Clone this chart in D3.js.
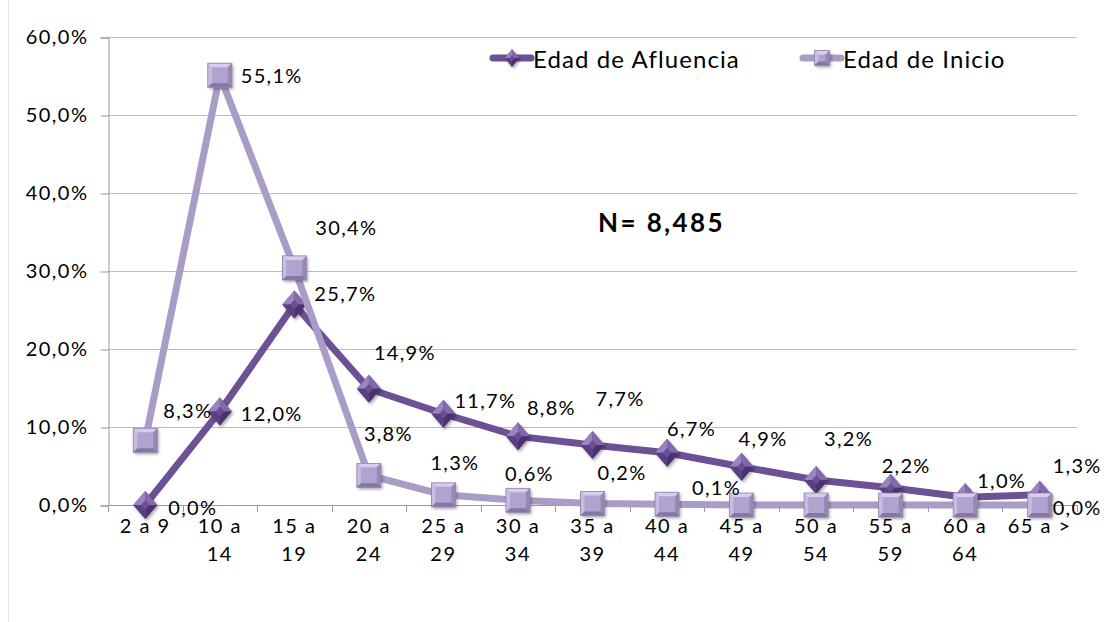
<!DOCTYPE html>
<html>
<head>
<meta charset="utf-8">
<script src="https://cdn.jsdelivr.net/npm/d3@7"></script>
<style>
  body { margin: 0; background: #fff; }
  text { font-family: Lato, "Open Sans", sans-serif; fill: #000; }
</style>
</head>
<body>
<script>
// data
var categories = ['2 a 9','10 a 14','15 a 19','20 a 24','25 a 29','30 a 34','35 a 39',
                  '40 a 44','45 a 49','50 a 54','55 a 59','60 a 64','65 a >'];
var afluencia = [0.0, 12.0, 25.7, 14.9, 11.7, 8.8, 7.7, 6.7, 4.9, 3.2, 2.2, 1.0, 1.3];
var inicio    = [8.3, 55.1, 30.4, 3.8, 1.3, 0.6, 0.2, 0.1, 0.0, 0.0, 0.0, 0.0, 0.0];
var yTicks = [0, 10, 20, 30, 40, 50, 60];
var seriesNames = ['Edad de Afluencia', 'Edad de Inicio'];
var totalN = 'N= 8,485';

// which inicio points carry a label (the rest were hidden in the original)
var inicioShown = [true,true,true,true,true,true,true,true,false,false,false,false,true];

// label nudges (dx from point to text start, dy from point to text middle)
var nudgeA = [[23,2],[21,2],[20,-12],[5,-37],[11,-14],[9,-29],[3,-47],[0,-25],[-3,-29],[8,-42],[-9,-23],[12,-17],[13,-30]];
var nudgeI = [[18,-30],[21,0],[21,-41],[-5,-42],[-13,-33],[-13,-27],[5,-31],[25,-17],[0,0],[0,0],[0,0],[0,0],[13,2]];

var W = 1109, H = 622;
var mLeft = 108, mRight = 1077, mTop = 37, mBottom = 505;

var loc = d3.formatLocale({decimal: ',', thousands: '.', grouping: [3], currency: ['', '']});
var pct = function(v) { return loc.format('.1f')(v) + '%'; };

var svg = d3.select('body').append('svg').attr('width', W).attr('height', H);

// faint outer frame line on the left
svg.append('line').attr('x1', 8.5).attr('x2', 8.5).attr('y1', 0).attr('y2', H)
    .attr('stroke', '#e6e6e6').attr('stroke-width', 1);

var x = d3.scaleBand().domain(categories).range([mLeft, mRight]);
var y = d3.scaleLinear().domain([0, 60]).range([mBottom, mTop]);

var defs = svg.append('defs');
var sh = defs.append('filter').attr('id', 'shadow').attr('x', '-50%').attr('y', '-50%')
    .attr('width', '200%').attr('height', '200%');
sh.append('feDropShadow').attr('dx', 1.5).attr('dy', 2).attr('stdDeviation', 1.5)
    .attr('flood-color', '#000').attr('flood-opacity', 0.35);

// gridlines
svg.append('g').selectAll('line').data(yTicks.slice(1)).enter().append('line')
    .attr('x1', mLeft).attr('x2', mRight)
    .attr('y1', function(d) { return Math.round(y(d)) + 0.5; })
    .attr('y2', function(d) { return Math.round(y(d)) + 0.5; })
    .attr('stroke', '#bdbdbd').attr('stroke-width', 1);

// y axis
var yAxis = d3.axisLeft(y).tickValues(yTicks).tickSize(8).tickPadding(12)
    .tickFormat(function(d) { return pct(d); });
var gy = svg.append('g').attr('transform', 'translate(' + (mLeft + 0.5) + ',0.5)').call(yAxis);
gy.select('.domain').attr('stroke', '#999');
gy.selectAll('.tick line').attr('stroke', '#999');
gy.selectAll('.tick text').attr('font-size', 20).attr('letter-spacing', 1.5)
    .style('font-family', 'Lato, sans-serif').attr('fill', '#000');

// x axis: ticks on band boundaries
var bounds = categories.map(function(c) { return x(c); }).concat([mRight]);
var gx = svg.append('g');
gx.append('line').attr('x1', mLeft).attr('x2', mRight)
    .attr('y1', mBottom + 0.5).attr('y2', mBottom + 0.5).attr('stroke', '#999');
gx.selectAll('line.tk').data(bounds).enter().append('line').attr('class', 'tk')
    .attr('x1', function(d) { return Math.round(d) + 0.5; })
    .attr('x2', function(d) { return Math.round(d) + 0.5; })
    .attr('y1', mBottom).attr('y2', mBottom + 7).attr('stroke', '#999');
var xl = gx.selectAll('text.xl').data(categories).enter().append('text').attr('class', 'xl')
    .attr('text-anchor', 'middle').attr('font-size', 20).attr('letter-spacing', 1.5);
xl.each(function(d) {
    var first = d, second = '';
    var m = d.match(/^(\d+ a) (\d+)$/);
    if (m && d !== '2 a 9') { first = m[1]; second = m[2]; }
    var t = d3.select(this), px = x(d) + x.bandwidth() / 2;
    t.append('tspan').attr('x', px).attr('y', 533).text(first);
    if (second) t.append('tspan').attr('x', px).attr('y', 561).text(second);
});

var cx = function(i) { return x(categories[i]) + x.bandwidth() / 2; };

var line = d3.line()
    .x(function(d, i) { return cx(i); })
    .y(function(d) { return y(d); });

var colA = '#6c5194', colI = '#a99cc6';

// marker helpers
function diamond(g, w, h, base, light, dark) {
    var hw = w / 2, hh = h / 2, k = 0.35;
    g.append('path').attr('d', 'M0,' + (-hh) + 'L' + hw + ',0L0,' + hh + 'L' + (-hw) + ',0Z')
        .attr('fill', base).attr('filter', 'url(#shadow)');
    g.append('path').attr('d', 'M0,' + (-hh) + 'L' + (-hw) + ',0L' + (-hw * k) + ',0L0,' + (-hh * k) + 'Z').attr('fill', light);
    g.append('path').attr('d', 'M0,' + (-hh) + 'L' + hw + ',0L' + (hw * k) + ',0L0,' + (-hh * k) + 'Z').attr('fill', d3.interpolateRgb(light, base)(0.5));
    g.append('path').attr('d', 'M0,' + hh + 'L' + hw + ',0L' + (hw * k) + ',0L0,' + (hh * k) + 'Z').attr('fill', dark);
    g.append('path').attr('d', 'M0,' + hh + 'L' + (-hw) + ',0L' + (-hw * k) + ',0L0,' + (hh * k) + 'Z').attr('fill', d3.interpolateRgb(dark, base)(0.5));
}
function square(g, s, base, light, dark) {
    var h = s / 2, i = h - 4;
    g.append('rect').attr('x', -h).attr('y', -h).attr('width', s).attr('height', s)
        .attr('fill', base).attr('filter', 'url(#shadow)');
    g.append('path').attr('d', 'M' + (-h) + ',' + (-h) + 'L' + h + ',' + (-h) + 'L' + i + ',' + (-i) + 'L' + (-i) + ',' + (-i) + 'Z').attr('fill', light);
    g.append('path').attr('d', 'M' + (-h) + ',' + (-h) + 'L' + (-h) + ',' + h + 'L' + (-i) + ',' + i + 'L' + (-i) + ',' + (-i) + 'Z').attr('fill', d3.interpolateRgb(light, base)(0.4));
    g.append('path').attr('d', 'M' + h + ',' + (-h) + 'L' + h + ',' + h + 'L' + i + ',' + i + 'L' + i + ',' + (-i) + 'Z').attr('fill', d3.interpolateRgb(dark, base)(0.4));
    g.append('path').attr('d', 'M' + (-h) + ',' + h + 'L' + h + ',' + h + 'L' + i + ',' + i + 'L' + (-i) + ',' + i + 'Z').attr('fill', dark);
    g.append('rect').attr('x', -h).attr('y', -h).attr('width', s).attr('height', s)
        .attr('fill', 'none').attr('stroke', '#8f82a8').attr('stroke-width', 0.8);
}

// series Afluencia
svg.append('path').datum(afluencia).attr('d', line).attr('fill', 'none')
    .attr('stroke', colA).attr('stroke-width', 7).attr('stroke-linejoin', 'round');
svg.append('g').selectAll('g').data(afluencia).enter().append('g')
    .attr('transform', function(d, i) { return 'translate(' + cx(i) + ',' + y(d) + ')'; })
    .each(function() { diamond(d3.select(this), 24, 28, '#6a4e93', '#9a83c0', '#4a3270'); });

// series Inicio
svg.append('path').datum(inicio).attr('d', line).attr('fill', 'none')
    .attr('stroke', colI).attr('stroke-width', 7).attr('stroke-linejoin', 'round');
svg.append('g').selectAll('g').data(inicio).enter().append('g')
    .attr('transform', function(d, i) { return 'translate(' + cx(i) + ',' + y(d) + ')'; })
    .each(function() { square(d3.select(this), 24, '#b1a3cf', '#d8cdec', '#8576a3'); });

// data labels
var lab = svg.append('g').attr('font-size', 20).attr('letter-spacing', 1.3);
lab.selectAll('text.a').data(afluencia).enter().append('text').attr('class', 'a')
    .attr('x', function(d, i) { return cx(i) + nudgeA[i][0]; })
    .attr('y', function(d, i) { return y(d) + nudgeA[i][1]; })
    .attr('dominant-baseline', 'central')
    .text(function(d) { return pct(d); });
inicio.forEach(function(v, i) {
    if (!inicioShown[i]) return;
    lab.append('text').attr('class', 'i')
        .attr('x', cx(i) + nudgeI[i][0]).attr('y', y(v) + nudgeI[i][1])
        .attr('dominant-baseline', 'central').text(pct(v));
});

// legend
var leg = svg.append('g');
var legItems = [
    {name: seriesNames[0], lx: 493, col: colA, mk: 'd'},
    {name: seriesNames[1], lx: 803, col: colI, mk: 's'}
];
legItems.forEach(function(it) {
    var g = leg.append('g').attr('transform', 'translate(' + it.lx + ',58)');
    g.append('line').attr('x1', 0).attr('x2', 38).attr('y1', 0).attr('y2', 0)
        .attr('stroke', it.col).attr('stroke-width', 7).attr('stroke-linecap', 'round');
    var m = g.append('g').attr('transform', 'translate(19,0)');
    if (it.mk === 'd') diamond(m, 14, 18, '#6a4e93', '#9a83c0', '#4a3270');
    else square(m, 15, '#b1a3cf', '#d8cdec', '#8576a3');
    g.append('text').attr('x', 40).attr('y', 0).attr('dominant-baseline', 'central')
        .attr('font-size', 24).attr('letter-spacing', 1.1).text(it.name);
});

// N annotation
svg.append('text').attr('x', 598).attr('y', 222).attr('dominant-baseline', 'central')
    .attr('font-size', 26).attr('font-weight', 'bold').attr('letter-spacing', 2.4)
    .text(totalN);
</script>
</body>
</html>
